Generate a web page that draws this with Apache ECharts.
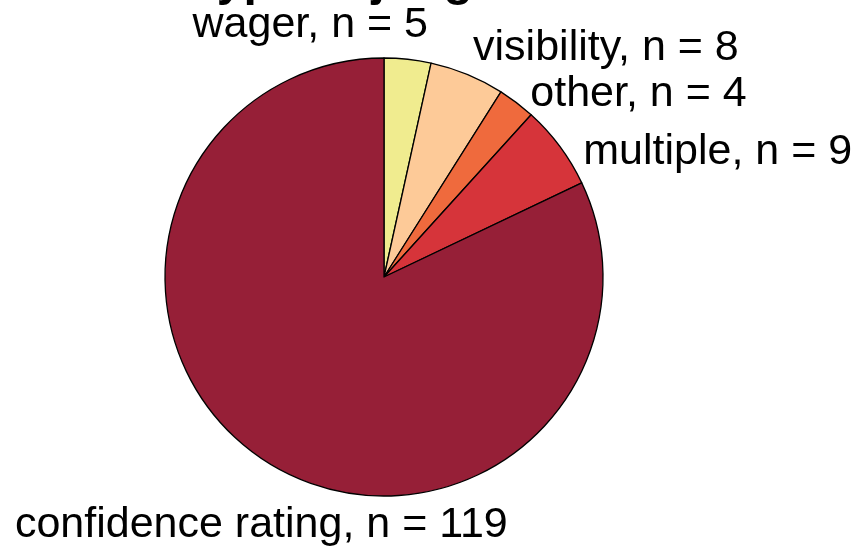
<!DOCTYPE html>
<html>
<head>
<meta charset="utf-8">
<script src="https://cdn.jsdelivr.net/npm/echarts@6/dist/echarts.min.js"></script>
<style>
  html, body { margin: 0; padding: 0; background: #fff; }
  #chart { width: 854px; height: 550px; }
</style>
</head>
<body>
<div id="chart"></div>
<script>
const categories = ["wager", "visibility", "other", "multiple", "confidence rating"];
const counts = [5, 8, 4, 9, 119];
const colors = ["#f0ec8f", "#fdca98", "#ef6a3d", "#d6343a", "#961f37"];
const titleText = "Type of judgment";

// nudges for the outside labels (layout only), index matches categories
const labelNudge = [[-221, -26], [-49, -48], [-36, -47], [-9, -34], [250, 56]];

const chart = echarts.init(document.getElementById("chart"));

const data = categories.map((name, i) => ({
  name: name,
  value: counts[i],
  itemStyle: { color: colors[i] }
}));

const option = {
  animation: false,
  textStyle: { fontFamily: "Liberation Sans, Arial, sans-serif" },
  title: {
    text: titleText,
    left: 186,
    top: -47,
    textStyle: { fontSize: 48, fontWeight: "bold", color: "#000", fontFamily: "Liberation Sans, Arial, sans-serif" }
  },
  series: [
    {
      type: "pie",
      center: [384, 277],
      radius: 219,
      startAngle: 90,
      clockwise: true,
      data: data,
      itemStyle: { borderColor: "#000", borderWidth: 1.3 },
      label: {
        show: true,
        position: "outside",
        formatter: (p) => p.name + ", n = " + p.value,
        fontSize: 43,
        color: "#000",
        overflow: "none"
      },
      labelLine: { show: false, length: 8, length2: 0 },
      labelLayout: (p) => {
        const n = labelNudge[p.dataIndex];
        return { dx: n[0], dy: n[1] };
      },
      emphasis: { disabled: true }
    }
  ]
};

chart.setOption(option);
</script>
</body>
</html>
